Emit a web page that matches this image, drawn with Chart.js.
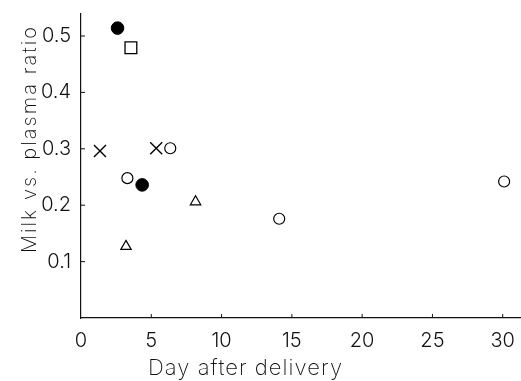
<!DOCTYPE html>
<html>
<head>
<meta charset="utf-8">
<script src="https://cdn.jsdelivr.net/npm/chart.js@4"></script>
<style>
  html, body { margin: 0; padding: 0; background: #fff; }
  #wrap { width: 521px; height: 381px; }
</style>
</head>
<body>
<div id="wrap"><canvas id="milkChart"></canvas></div>
<script>
// values: [day, milk/plasma ratio]
const filledCircles = [[2.6, 0.514], [4.35, 0.236]];
const openSquares = [[3.55, 0.479]];
const crosses = [[1.35, 0.296], [5.35, 0.301]];
const openCircles = [[6.35, 0.301], [3.3, 0.248], [14.1, 0.176], [30.1, 0.242]];
const triangles = [[3.2, 0.127], [8.15, 0.206]];
const xTicks = [0, 5, 10, 15, 20, 25, 30];
const yTicks = [0.1, 0.2, 0.3, 0.4, 0.5];
const xTitle = "Day after delivery";
const yTitle = "Milk vs. plasma ratio";

const toPts = arr => arr.map(p => ({ x: p[0], y: p[1] }));
const TICK_FONT = { family: "Inter, 'DejaVu Sans'", size: 20, weight: 300 };

// draws text spread out to a given width, like the lettered original
function spacedText(ctx, text, cx, cy, size, width) {
  ctx.font = `200 ${size}px Inter, 'DejaVu Sans'`;
  ctx.letterSpacing = "0px";
  const natural = ctx.measureText(text).width;
  const gap = Math.max(0, (width - natural) / (text.length - 1));
  ctx.letterSpacing = gap + "px";
  ctx.fillText(text, cx + gap / 2, cy);
  ctx.letterSpacing = "0px";
}

// short tick marks pointing into the plot, and the two axis titles
const figureExtras = {
  id: "figureExtras",
  afterDraw(chart) {
    const { ctx, chartArea: area, scales: { x, y } } = chart;
    ctx.save();
    ctx.strokeStyle = "#111";
    ctx.lineWidth = 1;
    xTicks.forEach(v => {
      if (v === 0) return;
      const px = x.getPixelForValue(v);
      ctx.beginPath();
      ctx.moveTo(px, area.bottom);
      ctx.lineTo(px, area.bottom - 4);
      ctx.stroke();
    });
    yTicks.forEach(v => {
      const py = y.getPixelForValue(v);
      ctx.beginPath();
      ctx.moveTo(area.left, py);
      ctx.lineTo(area.left + 4, py);
      ctx.stroke();
    });

    ctx.fillStyle = "#111";
    ctx.textAlign = "center";
    ctx.textBaseline = "middle";
    spacedText(ctx, xTitle, 245, 368, 22, 194);

    ctx.translate(30, 140);
    ctx.rotate(-Math.PI / 2);
    spacedText(ctx, yTitle, 0, 0, 20, 226);
    ctx.restore();
  }
};

const ctx = document.getElementById("milkChart").getContext("2d");
new Chart(ctx, {
  type: "scatter",
  data: {
    datasets: [
      { data: toPts(filledCircles), pointStyle: "circle", pointRadius: 6.3, backgroundColor: "#000", borderColor: "#000", borderWidth: 1 },
      { data: toPts(openSquares), pointStyle: "rect", pointRadius: 8.3, backgroundColor: "#fff", borderColor: "#000", borderWidth: 1.3 },
      { data: toPts(crosses), pointStyle: "crossRot", pointRadius: 8.5, borderColor: "#000", borderWidth: 1.4 },
      { data: toPts(openCircles), pointStyle: "circle", pointRadius: 5.5, backgroundColor: "#fff", borderColor: "#000", borderWidth: 1.2 },
      { data: toPts(triangles), pointStyle: "triangle", pointRadius: 6, backgroundColor: "#fff", borderColor: "#000", borderWidth: 1.2 }
    ]
  },
  options: {
    responsive: true,
    maintainAspectRatio: false,
    animation: false,
    layout: { autoPadding: false, padding: { top: 12, right: 0, left: 0, bottom: 0 } },
    plugins: { legend: { display: false }, tooltip: { enabled: false } },
    scales: {
      x: {
        type: "linear",
        min: 0,
        max: 31.3,
        afterBuildTicks: s => { s.ticks = xTicks.map(v => ({ value: v })); },
        afterFit: s => { s.height = 63; },
        grid: { display: false },
        border: { display: true, color: "#111", width: 1.2 },
        ticks: { color: "#111", padding: 3, maxRotation: 0, font: TICK_FONT }
      },
      y: {
        type: "linear",
        min: 0,
        max: 0.539,
        afterBuildTicks: s => { s.ticks = yTicks.map(v => ({ value: v })); },
        afterFit: s => { s.width = 81; },
        grid: { display: false },
        border: { display: true, color: "#111", width: 1.2 },
        ticks: { color: "#111", padding: 2, callback: v => v.toFixed(1), font: TICK_FONT }
      }
    }
  },
  plugins: [figureExtras]
});
</script>
</body>
</html>
